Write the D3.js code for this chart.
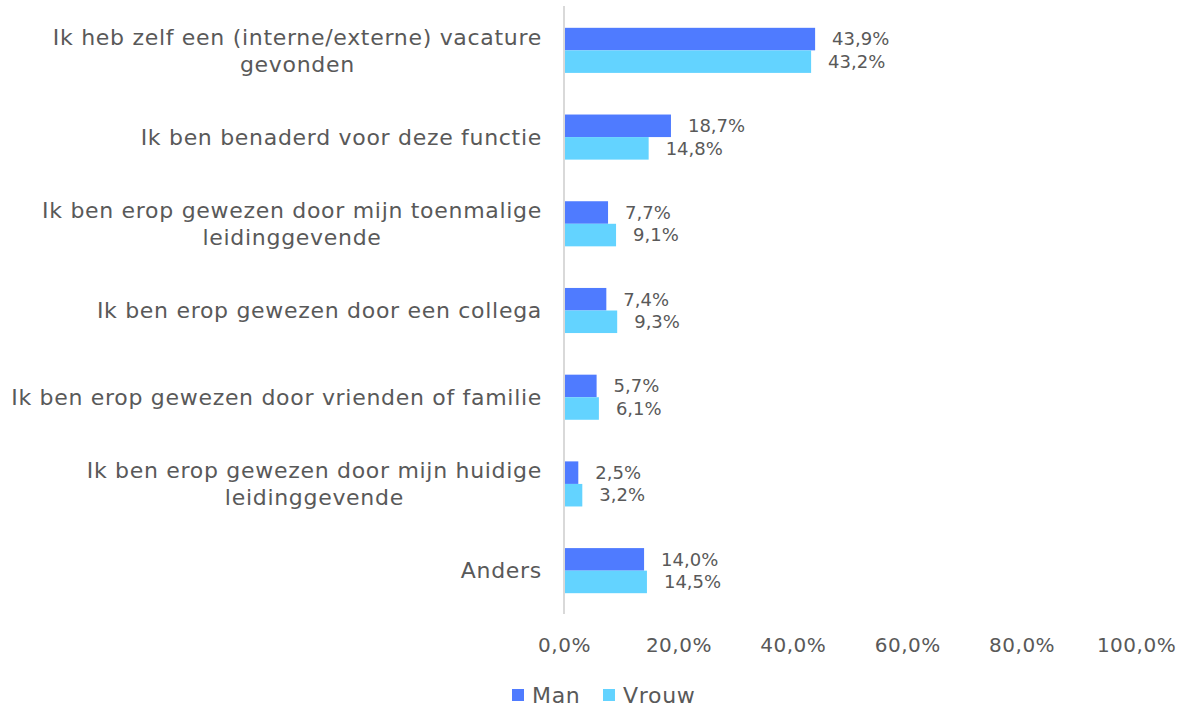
<html>
  <head>
    <title>Vacature</title>
    <style>
      body { margin: 0; background: #fff; }
      .chart text {
        fill: #595959;
        font-family: "DejaVu Sans", sans-serif;
      }
    </style>
    <script src="https://d3js.org/d3.v7.min.js"></script>
  </head>
  <body>
    <svg class="chart"></svg>
    <script>
var categories = [
  ["Ik heb zelf een (interne/externe) vacature", "gevonden"],
  ["Ik ben benaderd voor deze functie"],
  ["Ik ben erop gewezen door mijn toenmalige", "leidinggevende"],
  ["Ik ben erop gewezen door een collega"],
  ["Ik ben erop gewezen door vrienden of familie"],
  ["Ik ben erop gewezen door mijn huidige", "leidinggevende"],
  ["Anders"]
];
var series = ["Man", "Vrouw"];
var man = [43.9, 18.7, 7.7, 7.4, 5.7, 2.5, 14.0];
var vrouw = [43.2, 14.8, 9.1, 9.3, 6.1, 3.2, 14.5];
var ticks = [0, 20, 40, 60, 80, 100];
var colors = ["#4f7bff", "#63d3ff"];

var width = 1186, height = 708;
var plotLeft = 564, plotRight = 1136, plotTop = 7, plotBottom = 614;

var chart = d3.select(".chart")
    .attr("width", width)
    .attr("height", height);

var x = d3.scaleLinear().domain([0, 100]).range([plotLeft, plotRight]);
var y = d3.scaleBand().domain(d3.range(categories.length)).range([plotTop, plotBottom]).paddingInner(0.48).paddingOuter(0.24);
var y1 = d3.scaleBand().domain(series).range([0, y.bandwidth()]);

var fmt = function(v) { return v.toFixed(1).replace(".", ",") + "%"; };

var rows = categories.map(function(c, i) { return { i: i, lines: c, vals: [man[i], vrouw[i]] }; });

var g = chart.selectAll("g.row")
    .data(rows)
  .enter().append("g")
    .attr("class", "row")
    .attr("transform", function(d) { return "translate(0," + y(d.i) + ")"; });

g.selectAll("rect")
    .data(function(d) { return d.vals.map(function(v, k) { return { v: v, s: series[k], k: k }; }); })
  .enter().append("rect")
    .attr("x", x(0))
    .attr("y", function(d) { return y1(d.s); })
    .attr("height", y1.bandwidth())
    .attr("width", function(d) { return x(d.v) - x(0); })
    .attr("fill", function(d) { return colors[d.k]; });

g.selectAll("text.val")
    .data(function(d) { return d.vals.map(function(v, k) { return { v: v, s: series[k] }; }); })
  .enter().append("text")
    .attr("class", "val")
    .attr("x", function(d) { return x(d.v) + 17; })
    .attr("y", function(d) { return y1(d.s) + y1.bandwidth() / 2; })
    .attr("dy", "0.35em")
    .style("font-size", "18px")
    .text(function(d) { return fmt(d.v); });

g.append("text")
    .attr("class", "cat")
    .attr("text-anchor", "middle")
    .style("font-size", "22px")
    .style("letter-spacing", "0.7px")
    .each(function(d) {
      var t = d3.select(this);
      var n = d.lines.length;
      d.lines.forEach(function(l, j) {
        t.append("tspan")
          .attr("y", y.bandwidth() / 2 + (j - (n - 1) / 2) * 27)
          .attr("dy", "0.35em")
          .text(l);
      });
    });

// center lines under widest line, right edge near axis
g.select("text.cat").each(function() {
  var t = d3.select(this);
  var w = 0;
  t.selectAll("tspan").each(function() { w = Math.max(w, this.getComputedTextLength()); });
  t.selectAll("tspan").attr("x", plotLeft - 22 - w / 2);
});

// axis line
chart.append("line")
    .attr("x1", x(0)).attr("x2", x(0))
    .attr("y1", plotTop - 1).attr("y2", plotBottom)
    .attr("stroke", "#d9d9d9")
    .attr("stroke-width", 2);

var xAxis = d3.axisBottom(x)
    .tickValues(ticks)
    .tickSize(0)
    .tickPadding(0)
    .tickFormat(fmt);

var ax = chart.append("g")
    .attr("transform", "translate(0,645)")
    .call(xAxis);
ax.select(".domain").remove();
ax.selectAll("text")
    .attr("dy", "0.35em")
    .attr("y", 0)
    .style("font-size", "20px")
    .style("letter-spacing", "0.5px")
    .style("font-family", "\"DejaVu Sans\", sans-serif")
    .attr("fill", "#595959");

// legend
var legend = chart.append("g").attr("transform", "translate(512,695)");
var lx = [0, 91];
series.forEach(function(s, k) {
  legend.append("rect")
    .attr("x", lx[k]).attr("y", -6)
    .attr("width", 12).attr("height", 12)
    .attr("fill", colors[k]);
  legend.append("text")
    .attr("x", lx[k] + 20).attr("y", 0)
    .attr("dy", "0.35em")
    .style("font-size", "22px")
    .style("letter-spacing", "0.7px")
    .text(s);
});
    </script>
  </body>
</html>
